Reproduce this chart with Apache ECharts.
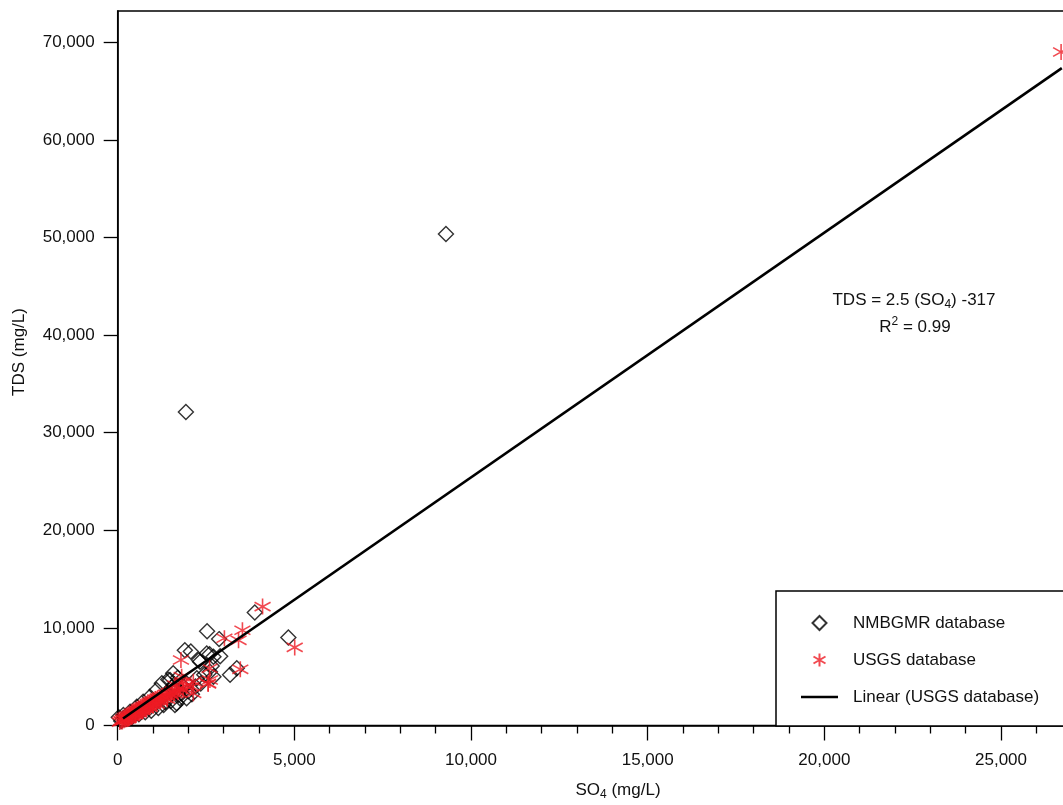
<!DOCTYPE html>
<html>
<head>
<meta charset="utf-8">
<script src="https://cdn.jsdelivr.net/npm/echarts@6/dist/echarts.min.js"></script>
<style>
html,body{margin:0;padding:0;background:#fff;}
#chart{width:1063px;height:805px;}
</style>
</head>
<body>
<div id="chart"></div>
<script>
// ---- data (SO4 mg/L, TDS mg/L) ----
const nmbgmrData = [
  [9290,50360],[1930,32120],[3880,11580],[4830,9020],[2530,9650],[2870,8850],[1900,7700],[2070,7570],
  [2520,7380],[2710,7050],[2900,7100],[3180,5200],[3370,5860],[2660,6100],[2710,5000],[2330,6540],
  [2610,5500],[2240,4840],[1570,5350],[1480,4660],[1430,4700],[1250,4330],[1860,3980],[1720,3130],
  [1670,2280],[1670,3640],[1760,2790],[1620,2100],[1950,2790],[1100,3640],[910,2950],[720,2440],
  [540,1930],[350,1410],[160,1080],[30,850],[1810,3300],[1530,3900],[1380,3300],[1200,2700],
  [1050,2250],[850,1900],[650,1600],[450,1200],[300,900],[1300,2100],[1150,1800],[950,1500],
  [1500,2500],[1350,2400],[2000,3500],[2100,3200],[1950,4300],[780,1350],[600,1150],[400,850],
  [250,700],[100,450],[2200,4000],[1600,4200],[1700,4900],[2600,7300],[2450,5200],[2350,4300],[2300,6700]
];
const usgsData = [
  [26700,69000],[4100,12180],[3530,9760],[3020,8940],[3420,8730],[5010,8000],[3470,5760],[2600,5860],
  [1790,6710],[2560,4330],[2140,4490],[2560,4250],[2090,3980],[2140,3300],[1860,4490],[1620,4150],
  [1810,5000],[2610,4660],
  [60,350],[100,500],[130,420],[150,650],[180,550],[200,800],[220,620],[250,900],[270,700],[300,1000],
  [320,800],[350,1100],[380,950],[400,1250],[420,1050],[450,1350],[480,1150],[500,1450],[520,1250],
  [550,1550],[580,1400],[600,1700],[630,1500],[650,1800],[680,1600],[700,1900],[730,1750],[750,2000],
  [780,1850],[800,2100],[830,1950],[850,2250],[880,2050],[900,2350],[930,2150],[950,2450],[980,2300],
  [1000,2550],[1030,2400],[1060,2700],[1100,2500],[1130,2800],[1160,2650],[1200,2900],[1240,2750],
  [1280,3050],[1320,2900],[1360,3200],[1400,3000],[1450,3350],[1500,3150],[1550,3450],[1600,3300],
  [1650,3600],[1700,3400],[1750,3800],[1850,3600],[1950,4000],[1000,2100],[800,1700],[600,1300],
  [400,900],[1200,2500],[1400,2700],[900,1900],[700,1550],[500,1100],[300,700],[1100,2200]
];
const trendLine = [[150,720],[26720,67350]];
const yTicks = [0,10000,20000,30000,40000,50000,60000,70000];
const seriesNames = ['NMBGMR database','USGS database','Linear (USGS database)'];
const equationText = 'TDS = 2.5 (SO{sub|4}) -317';
const r2Text = 'R{sup|2} = 0.99';
const xName = 'SO{sub|4} (mg/L)';
const yName = 'TDS (mg/L)';

const FONT = "'Liberation Sans',Arial,sans-serif";
const FS = 17;
const fmt = v => String(v).replace(/\B(?=(\d{3})+(?!\d))/g, ',');
const starPath = 'path://M10,0 L10,20 M1,4.5 L19,15.5 M1,15.5 L19,4.5';
// legend icons in a 37x15 box (leading moves fix the box)
const legendDiamond = 'path://M0,0 M37,15 M18.5,0.5 L25.5,7.5 L18.5,14.5 L11.5,7.5 Z';
const legendStar = 'path://M0,0 M37,15 M18.5,1 L18.5,14 M12.5,4 L24.5,11 M12.5,11 L24.5,4';
const legendLine = 'path://M0,0 M37,15 M0,6.2 L37,6.2 L37,8.8 L0,8.8 Z';

const chart = echarts.init(document.getElementById('chart'));
chart.setOption({
  animation: false,
  backgroundColor: '#fff',
  grid: {left: 117.7, top: 11, width: 1060, height: 714.5, show: true, borderColor: '#000', borderWidth: 1.5,
         outerBoundsMode: 'none', containLabel: false},
  xAxis: {
    type: 'value', min: 0, max: 30000, interval: 5000,
    axisLine: {lineStyle: {color: '#000', width: 1.5}},
    axisTick: {length: 15, lineStyle: {color: '#000', width: 1.3}},
    minorTick: {show: true, splitNumber: 5, length: 8, lineStyle: {color: '#000', width: 1.3}},
    splitLine: {show: false},
    axisLabel: {color: '#111', fontFamily: FONT, fontSize: FS, margin: 26, formatter: fmt}
  },
  yAxis: {
    type: 'value', min: 0, max: 73200,
    axisLine: {lineStyle: {color: '#000', width: 1.5}},
    axisTick: {length: 14, customValues: yTicks, lineStyle: {color: '#000', width: 1.3}},
    splitLine: {show: false},
    axisLabel: {color: '#111', fontFamily: FONT, fontSize: FS, margin: 23, customValues: yTicks, formatter: fmt}
  },
  legend: {
    orient: 'vertical', left: 776, top: 591,
    padding: [20, 120, 17, 24], itemGap: 13,
    itemWidth: 37, itemHeight: 15,
    borderColor: '#000', borderWidth: 1.5, backgroundColor: '#fff',
    textStyle: {color: '#111', fontFamily: FONT, fontSize: FS, lineHeight: 24, padding: [0,0,0,10]},
    data: [
      {name: seriesNames[0], icon: legendDiamond},
      {name: seriesNames[1], icon: legendStar},
      {name: seriesNames[2], icon: legendLine, itemStyle: {color: '#000', borderWidth: 0}}
    ]
  },
  series: [
    {
      name: seriesNames[0], type: 'scatter', data: nmbgmrData,
      symbol: 'diamond', symbolSize: 15,
      itemStyle: {color: 'transparent', borderColor: '#000', borderWidth: 1.4},
      z: 2
    },
    {
      name: seriesNames[1], type: 'scatter', data: usgsData,
      symbol: starPath, symbolSize: 16,
      itemStyle: {color: 'transparent', borderColor: '#ed1c24', borderWidth: 1.6},
      z: 3
    },
    {
      name: seriesNames[2], type: 'line', data: trendLine,
      symbol: 'none', showSymbol: false, lineStyle: {color: '#000', width: 2.6},
      itemStyle: {color: '#000'},
      z: 4
    }
  ],
  graphic: [
    {type: 'text', x: 19, y: 352, rotation: Math.PI/2,
     style: {text: yName, fontFamily: FONT, fontSize: FS, fill: '#111', align: 'center', verticalAlign: 'middle'}},
    {type: 'text', x: 618, y: 790,
     style: {text: xName, fontFamily: FONT, fontSize: FS, fill: '#111', align: 'center', verticalAlign: 'middle', lineHeight: 22,
       rich: {sub: {fontFamily: FONT, fontSize: 12, fill: '#111', verticalAlign: 'bottom', lineHeight: 16}}}},
    {type: 'text', x: 914, y: 300,
     style: {text: equationText, fontFamily: FONT, fontSize: FS, fill: '#111', align: 'center', verticalAlign: 'middle', lineHeight: 22,
       rich: {sub: {fontFamily: FONT, fontSize: 12, fill: '#111', verticalAlign: 'bottom', lineHeight: 18}}}},
    {type: 'text', x: 915, y: 327,
     style: {text: r2Text, fontFamily: FONT, fontSize: FS, fill: '#111', align: 'center', verticalAlign: 'middle', lineHeight: 22,
       rich: {sup: {fontFamily: FONT, fontSize: 12, fill: '#111', verticalAlign: 'top', lineHeight: 12}}}}
  ]
});
</script>
</body>
</html>
